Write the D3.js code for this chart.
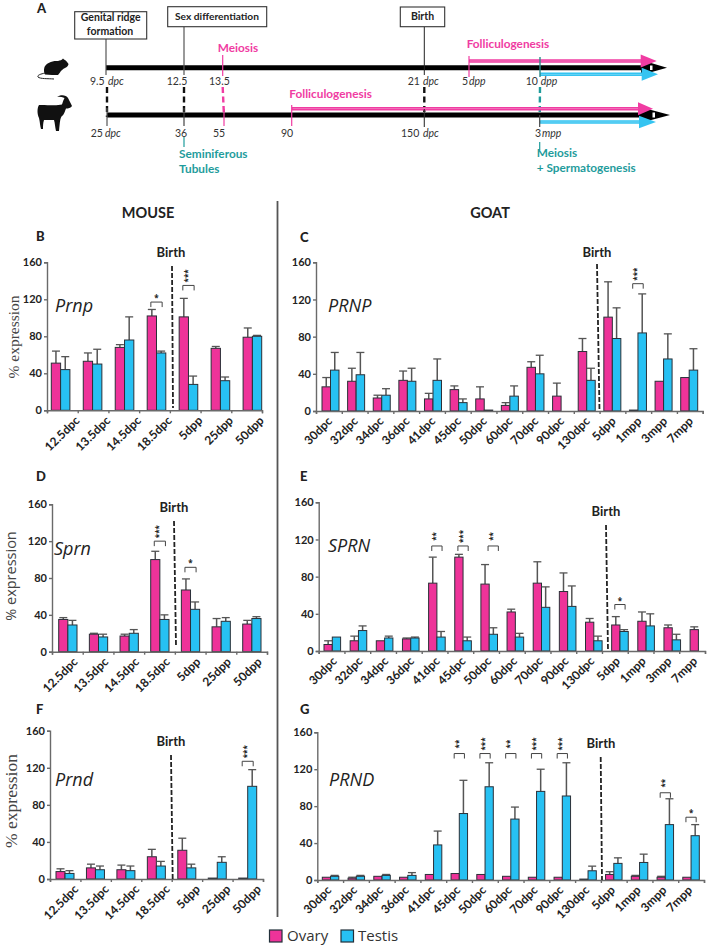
<!DOCTYPE html>
<html><head><meta charset="utf-8">
<script src="https://cdn.jsdelivr.net/npm/d3@7"></script>
<style>
html,body{margin:0;padding:0;background:#fff}
svg{display:block}
text{font-family:Lato,"Open Sans",sans-serif;fill:#222}
</style></head><body><svg id="c" width="709" height="946"></svg>
<script>
// ---------- data ----------
const mouseCats = ["12.5dpc","13.5dpc","14.5dpc","18.5dpc","5dpp","25dpp","50dpp"];
const goatCats = ["30dpc","32dpc","34dpc","36dpc","41dpc","45dpc","50dpc","60dpc","70dpc","90dpc","130dpc","5dpp","1mpp","3mpp","7mpp"];
const yTicks = [0,40,80,120,160];

const prnpOvary = [51,53,68,102,101,67,79];
const prnpOvaryTop = [64,62,71,109,121,69,89];
const prnpTestis = [44,50,76,62,28,32,80];
const prnpTestisTop = [58,66,101,64,37,36,81];

const goatPrnpOvary = [26,32,14,33,13,23,13,6,47,16,64,101,1,32,36];
const goatPrnpOvaryTop = [36,46,17,43,19,27,26,9,53,30,78,139,1,32,36];
const goatPrnpTestis = [44,39,17,32,33,9,1,16,40,0,33,78,84,56,44];
const goatPrnpTestisTop = [63,63,24,46,56,13,1,27,60,0,46,111,126,83,67];

const sprnOvary = [35,19,17,100,67,27,30];
const sprnOvaryTop = [37,20,19,109,79,36,34];
const sprnTestis = [29,16,20,35,46,33,36];
const sprnTestisTop = [34,19,24,40,54,37,38];

const goatSprnOvary = [7,11,11,13,73,101,72,42,73,64,31,28,32,25,23];
const goatSprnOvaryTop = [11,16,11,14,101,104,93,45,96,84,35,37,42,28,26];
const goatSprnTestis = [15,22,14,14,15,11,18,15,47,48,11,21,27,12,0];
const goatSprnTestisTop = [15,27,16,15,21,15,25,19,69,70,16,23,40,18,0];

const prndOvary = [8,12,10,24,31,1,1];
const prndOvaryTop = [11,16,15,32,44,1,1];
const prndTestis = [6,10,9,14,12,18,100];
const prndTestisTop = [9,14,14,19,16,24,118];

const goatPrndOvary = [3,2,4,3,6,7,6,4,3,3,1,6,4,3,3];
const goatPrndOvaryTop = [3,3,4,3,6,7,6,4,3,3,1,9,5,4,3];
const goatPrndTestis = [4,4,5,5,38,72,101,66,96,91,10,18,19,60,48];
const goatPrndTestisTop = [5,5,6,8,53,108,127,79,120,127,15,24,28,88,60];

// significance: category, bracket height in % units, stars
const prnpSig = [["18.5dpc",117,"*"],["5dpp",135,"***"]];
const goatPrnpSig = [["1mpp",137,"***"]];
const sprnSig = [["18.5dpc",120,"***"],["5dpp",91.6,"*"]];
const goatSprnSig = [["41dpc",113,"**"],["45dpc",113,"***"],["50dpc",113,"**"],["5dpp",50,"*"]];
const prndSig = [["50dpp",127,"***"]];
const goatPrndSig = [["45dpc",137,"**"],["50dpc",137,"***"],["60dpc",137,"**"],["70dpc",137,"***"],["90dpc",137,"***"],["3mpp",94.5,"**"],["7mpp",68,"*"]];

const mouseMarks = ["9.5","12.5","13.5","21","5","10"];
const goatMarks = ["25","36","55","90","150","3"];

// ---------- styles ----------
const PINK="#ee3399", BLUE="#27c1f3", BARLINE="#2b3038", AXIS="#6a6a6a", ERR="#555";
const TPINK="#f03ca2", TEAL="#1f9c9c";
const svg=d3.select("#c");

// ---------- panels ----------
const panels=[
 {id:"B",gene:"Prnp",cats:mouseCats,o:prnpOvary,oT:prnpOvaryTop,t:prnpTestis,tT:prnpTestisTop,sig:prnpSig,
  x0:47,x1:262,y0:410.3,y1:262.3,r:[51.3,261.7],gw:18.6,lx:36,ly:241,gx:55,gy:312,bx:171,by:257,b0:[172,266],b1:[173,408],ldx:18},
 {id:"C",gene:"PRNP",cats:goatCats,o:goatPrnpOvary,oT:goatPrnpOvaryTop,t:goatPrnpTestis,tT:goatPrnpTestisTop,sig:goatPrnpSig,
  x0:316,x1:702.7,y0:411,y1:262.3,r:[322,697.7],gw:17,lx:300,ly:242,gx:328,gy:312,bx:597,by:257,b0:[597,264],b1:[599.5,411],ldx:4},
 {id:"D",gene:"Sprn",cats:mouseCats,o:sprnOvary,oT:sprnOvaryTop,t:sprnTestis,tT:sprnTestisTop,sig:sprnSig,
  x0:52,x1:267,y0:651.7,y1:504.3,r:[58.7,261],gw:18.3,lx:36,ly:481,gx:54,gy:555,bx:174,by:512,b0:[174,521],b1:[176,646],ldx:11},
 {id:"E",gene:"SPRN",cats:goatCats,o:goatSprnOvary,oT:goatSprnOvaryTop,t:goatSprnTestis,tT:goatSprnTestisTop,sig:goatSprnSig,
  x0:318.7,x1:705,y0:651,y1:502.3,r:[324,706.7],gw:16.6,lx:300,ly:481,gx:328,gy:552,bx:606,by:516,b0:[606,525],b1:[608,651],ldx:6},
 {id:"F",gene:"Prnd",cats:mouseCats,o:prndOvary,oT:prndOvaryTop,t:prndTestis,tT:prndTestisTop,sig:prndSig,
  x0:50,x1:263,y0:879,y1:730.7,r:[56,256.7],gw:18,lx:36,ly:714,gx:55,gy:786,bx:171,by:746,b0:[171,755],b1:[172.7,880],ldx:14},
 {id:"G",gene:"PRND",cats:goatCats,o:goatPrndOvary,oT:goatPrndOvaryTop,t:goatPrndTestis,tT:goatPrndTestisTop,sig:goatPrndSig,
  x0:317.3,x1:704,y0:880,y1:732.3,r:[322.3,699.3],gw:16.5,lx:300,ly:714,gx:329,gy:786,bx:601,by:748,b0:[600.7,757],b1:[602,880],ldx:2}
];

panels.forEach(p=>{
  const g=svg.append("g");
  const n=p.cats.length, step=(p.r[1]-p.r[0]-p.gw)/(n-1);
  const x=d3.scaleBand().domain(p.cats).range(p.r).paddingInner(1-p.gw/step).paddingOuter(0);
  const labelX=d3.scaleBand().domain(p.cats).range([p.x0,p.x1]);
  const bound=d3.scaleLinear().domain([0,n]).range([p.x0,p.x1]);
  const y=d3.scaleLinear().domain([0,160]).range([p.y0,p.y1]);
  const half=x.bandwidth()/2;

  const series=[{c:PINK,v:p.o,top:p.oT,dx:0},{c:BLUE,v:p.t,top:p.tT,dx:half}];
  series.forEach(s=>{
    const gs=g.append("g");
    const cx=(d,i)=>x(p.cats[i])+s.dx+half/2;
    gs.selectAll("line.err").data(s.v).join("line").attr("class","err")
      .attr("x1",cx).attr("x2",cx).attr("y1",d=>y(d)).attr("y2",(d,i)=>y(s.top[i]))
      .attr("stroke",ERR).attr("stroke-width",1.5)
      .attr("display",(d,i)=>s.top[i]>d?null:"none");
    gs.selectAll("line.cap").data(s.v).join("line").attr("class","cap")
      .attr("x1",(d,i)=>cx(d,i)-4).attr("x2",(d,i)=>cx(d,i)+4)
      .attr("y1",(d,i)=>y(s.top[i])).attr("y2",(d,i)=>y(s.top[i]))
      .attr("stroke",ERR).attr("stroke-width",1.3)
      .attr("display",(d,i)=>s.top[i]>d?null:"none");
    gs.selectAll("rect").data(s.v).join("rect")
      .attr("x",(d,i)=>x(p.cats[i])+s.dx).attr("width",half)
      .attr("y",d=>y(d)).attr("height",d=>y(0)-y(d))
      .attr("fill",s.c).attr("stroke",BARLINE).attr("stroke-width",1);
  });

  // axes
  const ya=g.append("g").attr("transform",`translate(${p.x0},0)`)
    .call(d3.axisLeft(y).tickValues(yTicks).tickSize(3).tickPadding(2));
  ya.selectAll("path,line").attr("stroke",AXIS).attr("stroke-width",1.4);
  ya.selectAll("text").style("font-size","11px").style("font-weight",700).style("font-family","Lato");
  const xb=g.append("g").attr("transform",`translate(0,${p.y0})`)
    .call(d3.axisBottom(bound).tickValues(d3.range(0,n+1)).tickFormat("").tickSize(3));
  xb.selectAll("path,line").attr("stroke",AXIS).attr("stroke-width",1.4);
  const xl=g.append("g").attr("transform",`translate(0,${p.y0})`)
    .call(d3.axisBottom(labelX).tickSize(0).tickPadding(0));
  xl.select("path").remove();
  xl.selectAll("text")
    .attr("y",0).attr("dy",0)
    .attr("text-anchor","end")
    .attr("transform",`translate(${p.ldx},11) rotate(-45)`)
    .style("font-size","12px").style("font-weight",700).style("font-family","Lato");

  // brackets
  p.sig.forEach(([cat,val,st])=>{
    const offs=(p.id==="E"&&cat==="50dpc")?4:0;
    const a=x(cat)+half/2+offs-1, b=x(cat)+half*1.5+offs+1, t=y(val);
    g.append("path").attr("d",d3.line()([[a,t+5],[a,t],[b,t],[b,t+5]]))
      .attr("fill","none").attr("stroke","#444").attr("stroke-width",1);
    const one=st.length===1, cxx=(a+b)/2;
    g.append("text").text(st).attr("text-anchor","middle")
      .attr("transform",one?`translate(${cxx},${t-1})`:`translate(${cxx+2.5},${t-9.5}) rotate(-90)`)
      .style("font-size","8px").style("font-weight",700).style("font-family","'Open Sans'");
  });

  // birth
  g.append("line").attr("x1",p.b0[0]).attr("y1",p.b0[1]).attr("x2",p.b1[0]).attr("y2",p.b1[1])
    .attr("stroke","#222").attr("stroke-width",1.8).attr("stroke-dasharray","5 2");
  g.append("text").text("Birth").attr("x",p.bx).attr("y",p.by).attr("text-anchor","middle")
    .style("font-size","13px").style("font-weight",700);

  g.append("text").text(p.gene).attr("x",p.gx).attr("y",p.gy)
    .style("font-size","18px").style("font-style","italic").style("font-family","'Open Sans'");
  g.append("text").text(p.id).attr("x",p.lx).attr("y",p.ly)
    .style("font-size","13px").style("font-weight",900);
});

// y titles
[["% expression",19,337,"Liberation Serif",15.5],
 ["% expression",15.5,576,"Open Sans",14.5],
 ["% expression",16.5,801,"Liberation Serif",17.5]].forEach(([t,x,y,f,s])=>{
  svg.append("text").text(t).attr("text-anchor","middle")
    .attr("transform",`translate(${x},${y}) rotate(-90)`)
    .style("font-family",`'${f}'`).style("font-size",s+"px").style("fill","#444");
});

// headers and divider
svg.append("text").text("MOUSE").attr("x",148).attr("y",218).attr("text-anchor","middle").style("font-size","14.5px").style("font-weight",700);
svg.append("text").text("GOAT").attr("x",490).attr("y",218).attr("text-anchor","middle").style("font-size","14.5px").style("font-weight",700);
svg.append("line").attr("x1",277.5).attr("x2",277.5).attr("y1",201).attr("y2",917).attr("stroke","#555").attr("stroke-width",1.8);

// legend
[[269.5,"Ovary",PINK,287],[341,"Testis",BLUE,358]].forEach(([x,t,c,tx])=>{
  svg.append("rect").attr("x",x).attr("y",930).attr("width",12.5).attr("height",12).attr("fill",c).attr("stroke","#22303a").attr("stroke-width",1.2);
  svg.append("text").text(t).attr("x",tx).attr("y",941).style("font-size","15px").style("font-family","'Open Sans'").style("fill","#333");
});

// ---------- timeline A ----------
const A=svg.append("g");
const mouseX=d3.scaleOrdinal().domain(mouseMarks).range([106,184,222.7,424.3,469,540]);
const goatX=d3.scaleOrdinal().domain(goatMarks).range([107,184,224,291.7,424.3,539.7]);
function T(s,x,y,o={}){const e=A.append("text").text(s).attr("x",x).attr("y",y)
  .style("font-size",(o.size||11)+"px").style("font-weight",o.w||400).style("font-style",o.i?"italic":"normal")
  .attr("text-anchor",o.a||"start").style("fill",o.c||"#333");return e;}
function L(x1,y1,x2,y2,c,w,d){return A.append("line").attr("x1",x1).attr("y1",y1).attr("x2",x2).attr("y2",y2)
  .attr("stroke",c).attr("stroke-width",w).attr("stroke-dasharray",d||null);}
T("A",37,13,{size:13,w:900,c:"#222"});

// dashed links
[["9.5","25","#111"],["12.5","36","#111"],["13.5","55",TPINK],["21","150","#111"],["10","3",TEAL]].forEach(([m,g,c])=>{
  L(mouseX(m)+(m==="9.5"?1:0),87,goatX(g),117,c,2.4,"6 3.5");
});

function arrow(x0,x1,hx,tip,yc,hh,c){
  L(x0,yc,x1+2,yc,c,3.6);
  L(x0+1,yc,x1,yc,"#fff",0.6).attr("opacity",0.5);
  A.append("path").attr("d",d3.line()([[hx,yc-hh],[tip,yc],[hx,yc+hh]])+"Z").attr("fill",c);
}
// mouse bar
L(mouseX("9.5"),67.7,645,67.7,"#000",5);
A.append("path").attr("d",d3.line()([[641,60],[667,67.7],[641,75]])+"Z").attr("fill","#000");
A.append("rect").attr("x",650).attr("y",65.5).attr("width",2.5).attr("height",4.5).attr("fill","#fff");
// goat bar
L(goatX("25"),115,645,115,"#000",5);
A.append("path").attr("d",d3.line()([[640,107],[670,115],[640,123]])+"Z").attr("fill","#000");
A.append("rect").attr("x",652.5).attr("y",112.5).attr("width",2.5).attr("height",5).attr("fill","#fff");

arrow(mouseX("5"),641,640.7,656.7,61,6.5,TPINK);
arrow(mouseX("10"),642,641.7,658,74.3,6.5,"#35c4f1");
arrow(goatX("90"),638,638,653,108.7,6.5,TPINK);
arrow(goatX("3"),639,639,656,122,6.3,"#35c4f1");

// gray/colored ticks
L(mouseX("9.5"),39,mouseX("9.5"),75,"#555",1.2);
L(mouseX("12.5"),27,mouseX("12.5"),75,"#555",1.2);
L(mouseX("21"),27,mouseX("21"),75,"#222",1);
L(mouseX("13.5"),55,mouseX("13.5"),76,TPINK,1.2);
L(mouseX("5"),56,mouseX("5"),77,TPINK,1.2);
L(mouseX("10"),57,mouseX("10"),77,"#2a8a8a",1.4);
L(goatX("25"),108,goatX("25"),126,"#555",1.2);
L(goatX("36"),108,goatX("36"),126,"#444",1.2);
L(goatX("55"),109,goatX("55"),126,TPINK,1.2);
L(goatX("90"),105,goatX("90"),126,TPINK,1.2);
L(goatX("150"),109,goatX("150"),127,"#333",1.1);
L(goatX("3"),115,goatX("3"),127,"#444",1.2);
L(goatX("36"),137,goatX("36"),147,TEAL,1.2);
L(goatX("3"),142,goatX("3"),150,TEAL,1.2);

// boxes
[[74.7,11.7,72,27.3],[167.7,6.7,99,20],[400.3,7,44.4,19.7]].forEach(([x,y,w,h])=>{
  A.append("rect").attr("x",x).attr("y",y).attr("width",w).attr("height",h).attr("fill","#fff").attr("stroke","#333").attr("stroke-width",1.1);
});
T("Genital ridge",110.7,21,{a:"middle",w:700,size:10.5,c:"#222"});
T("formation",110,34.5,{a:"middle",w:700,size:10.5,c:"#222"});
T("Sex differentiation",217,19.5,{a:"middle",w:700,size:10.2,c:"#222"});
T("Birth",422.5,19.5,{a:"middle",w:700,size:10.5,c:"#222"});

const pinkL={size:11.8,w:700,c:TPINK}, tealL={size:11.8,w:700,c:TEAL};
T("Meiosis",217.7,52,pinkL);
T("Folliculogenesis",466.7,47.7,pinkL);
T("Folliculogenesis",289.3,97.7,pinkL);
T("Seminiferous",179,158,tealL);
T("Tubules",179,172.7,tealL);
T("Meiosis",536.7,157,tealL);
T("+ Spermatogenesis",536.7,172,tealL);

// time labels
[["9.5",90,85],["12.5",166.7,85],["13.5",209,85],["21",407.7,85],["5",462,85],["10",525.7,85],
 ["25",90.7,137],["36",175,137],["55",213,137],["90",281,137],["150",401,137],["3",535,137]].forEach(([s,x,y])=>T(s,x,y,{size:10.5}));
[["dpc",108,85],["dpc",423,85],["dpp",469,85],["dpp",540.7,85],["dpc",105,137],["dpc",423,137],["mpp",542,137]].forEach(([s,x,y])=>T(s,x,y,{size:10.5,i:true}));

// animal silhouettes
A.append("path").attr("fill","#111").attr("d","M68.5,64 C67,62 66,60 64,59.5 L63,58.5 C62,60 60,60.5 58,61 C52,60.5 46.5,63 44.5,67 C43.5,70 44,73 45,74.5 L52,75 L58,75 L60,72.5 C61,70.5 63,69 65,68 C67,67 68.5,65.5 68.5,64Z");
A.append("path").attr("fill","none").attr("stroke","#222").attr("stroke-width",1).attr("d","M45,73 C41,74 37,75 38,77 C40,79 48,78.5 54,79");
A.append("path").attr("fill","#111").attr("d","M39,105 C44,104.5 56,106 62,104.5 C63,101 64,99 64.5,98 C62,97 59,96.5 57,97 C60,94.5 66,94.5 68,98 C69,100 70,102 72,106 C71,108 68,108.5 66,108.5 C65,111 64,115 62,116 C60,118 60,122 59,131 L56,131 C55,127 55,123 54,120 C50,120 46,120 44,120 C43,123 43,126 43,129 L41,129 C40,126 40,122 39,118 C37,114 37,108 39,105Z");
</script></body></html>
